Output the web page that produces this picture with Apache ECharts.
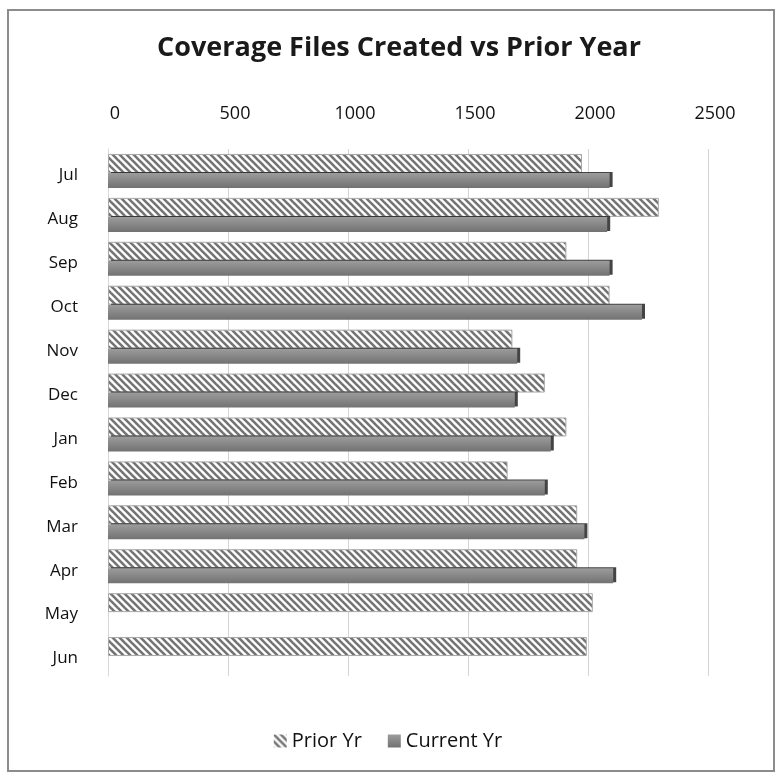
<!DOCTYPE html>
<html>
<head>
<meta charset="utf-8">
<script src="https://cdn.jsdelivr.net/npm/echarts@6/dist/echarts.min.js"></script>
<style>
  html, body { margin: 0; padding: 0; background: #fff; }
  #chart { width: 776px; height: 773px; }
</style>
</head>
<body>
<div id="chart"></div>
<script>
// Monthly counts of coverage files, fiscal year Jul–Jun
const months = ['Jul', 'Aug', 'Sep', 'Oct', 'Nov', 'Dec', 'Jan', 'Feb', 'Mar', 'Apr', 'May', 'Jun'];
const priorYr = [1975, 2295, 1910, 2090, 1685, 1820, 1910, 1665, 1955, 1955, 2020, 1995];
const currentYr = [2090, 2080, 2090, 2225, 1705, 1695, 1845, 1820, 1985, 2105, null, null];
const xTicks = [0, 500, 1000, 1500, 2000, 2500];

// Diagonal hatch tile for the prior-year bars
function hatchTile() {
  const s = 7;
  const c = document.createElement('canvas');
  c.width = s; c.height = s;
  const g = c.getContext('2d');
  g.fillStyle = '#ffffff';
  g.fillRect(0, 0, s, s);
  g.strokeStyle = '#747474';
  g.lineWidth = 2.6;
  for (let k = -1; k <= 1; k++) {
    g.beginPath();
    g.moveTo(k * s - 1, -1);
    g.lineTo(k * s + s + 1, s + 1);
    g.stroke();
  }
  return c;
}
const hatch = { image: hatchTile(), repeat: 'repeat' };

const chart = echarts.init(document.getElementById('chart'), null, { renderer: 'canvas' });
const font = '"Open Sans", Lato, sans-serif';

chart.setOption({
  animation: false,
  backgroundColor: '#ffffff',
  title: {
    text: 'Coverage Files Created vs Prior Year',
    left: 394, top: 30, textAlign: 'center',
    textStyle: { fontFamily: font, fontSize: 27, fontWeight: 'bold', color: '#1a1a1a' }
  },
  legend: {
    bottom: 17, left: 'center',
    itemWidth: 13, itemHeight: 13, itemGap: 26,
    textStyle: { fontFamily: font, fontSize: 20, color: '#111' },
    data: [
      { name: 'Prior Yr', icon: 'rect', itemStyle: { borderWidth: 0 } },
      { name: 'Current Yr', icon: 'rect', itemStyle: { shadowBlur: 0, shadowOffsetX: 0, shadowOffsetY: 0, shadowColor: 'transparent' } }
    ]
  },
  graphic: [{
    type: 'rect',
    shape: { x: 8, y: 10, width: 766, height: 761 },
    style: { fill: 'none', stroke: '#8c8c8c', lineWidth: 2 },
    silent: true, z: -1
  }],
  grid: { left: 108, right: 68, top: 149, bottom: 97 },
  xAxis: {
    type: 'value', position: 'top',
    min: 0, max: 2500, interval: 500,
    axisLine: { show: false }, axisTick: { show: false },
    splitLine: { show: true, lineStyle: { color: '#d4d4d4', width: 1 } },
    axisLabel: {
      margin: 26, fontFamily: font, fontSize: 18, color: '#111',
      padding: [0, 0, 0, 14],
      formatter: v => xTicks.includes(v) ? String(v) : ''
    }
  },
  yAxis: {
    type: 'category', inverse: true, data: months,
    axisLine: { show: true, lineStyle: { color: '#d8d8d8' } },
    axisTick: { show: false },
    axisLabel: {
      margin: 30, fontFamily: font, fontSize: 17, color: '#111',
      verticalAlign: 'top', lineHeight: 9
    }
  },
  series: [
    {
      name: 'Prior Yr', type: 'bar', data: priorYr,
      barGap: '0%', barWidth: 19,
      itemStyle: { color: hatch, borderColor: '#a8a8a8', borderWidth: 1 }
    },
    {
      name: 'Current Yr', type: 'bar', data: currentYr,
      barWidth: 15,
      itemStyle: {
        color: new echarts.graphic.LinearGradient(0, 0, 0, 1, [
          { offset: 0, color: '#9c9c9c' },
          { offset: 0.5, color: '#878787' },
          { offset: 1, color: '#727272' }
        ]),
        borderWidth: 0,
        shadowColor: 'rgba(35,35,35,0.85)', shadowOffsetX: 3, shadowOffsetY: -1, shadowBlur: 0
      }
    }
  ]
});
</script>
</body>
</html>
